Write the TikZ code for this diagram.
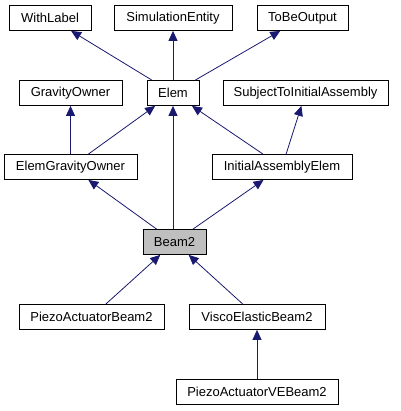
\documentclass[tikz,border=0pt]{standalone}
\usepackage{fontspec}
\setmainfont{Liberation Sans}
\usetikzlibrary{arrows.meta}
\definecolor{edgeblue}{HTML}{191970}
\begin{document}
\begin{tikzpicture}[x=1pt, y=-1pt,
    cls/.style={draw, line width=0.8pt, minimum height=25, inner sep=0,
        font=\fontsize{13}{15}\selectfont},
    edge/.style={-{Triangle[length=10pt, width=9pt]}, edgeblue, line width=0.8pt}]
    \useasboundingbox (0,0) rectangle (400,411);

    \draw(50, 18) node [cls, minimum width=82](withlabel){WithLabel};
    \draw(173, 18) node [cls, minimum width=118](simentity){SimulationEntity};
    \draw(302.5, 18) node [cls, minimum width=91](tobeoutput){ToBeOutput};

    \draw(70.5, 93) node [cls, minimum width=103](gravowner){GravityOwner};
    \draw(173, 93) node [cls, minimum width=52](elem){Elem};
    \draw(305.5, 93) node [cls, minimum width=165](subject){SubjectToInitialAssembly};

    \draw(70.5, 167) node [cls, minimum width=133](egowner){ElemGravityOwner};
    \draw(282, 167) node [cls, minimum width=140](iaelem){InitialAssemblyElem};

    \draw(174.5, 242) node [cls, minimum width=63, fill=black!25](beam2){Beam2};

    \draw(91.5, 317) node [cls, minimum width=145](pabeam2){PiezoActuatorBeam2};
    \draw(257, 317) node [cls, minimum width=136](vebeam2){ViscoElasticBeam2};
    \draw(257, 391.5) node [cls, minimum width=162](pavebeam2){PiezoActuatorVEBeam2};

    \draw[edge] (elem) -- (withlabel);
    \draw[edge] (elem.north -| simentity) -- (simentity);
    \draw[edge] (elem) -- (tobeoutput);

    \draw[edge] (egowner) -- (gravowner);
    \draw[edge] (egowner) -- (elem);
    \draw[edge] (iaelem) -- (elem);
    \draw[edge] (iaelem) -- (subject);

    \draw[edge] (beam2.north -| elem) -- (elem);
    \draw[edge] (beam2) -- (egowner);
    \draw[edge] (beam2) -- (iaelem);

    \draw[edge] (pabeam2) -- (beam2);
    \draw[edge] (vebeam2) -- (beam2);
    \draw[edge] (pavebeam2) -- (vebeam2);
\end{tikzpicture}
\end{document}
